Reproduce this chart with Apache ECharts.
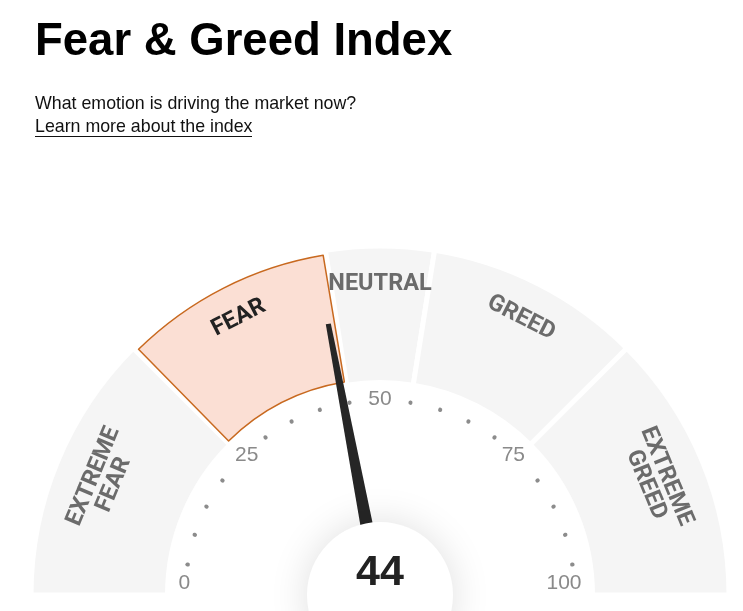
<!DOCTYPE html>
<html>
<head>
<meta charset="utf-8">
<script src="https://cdn.jsdelivr.net/npm/echarts@6/dist/echarts.min.js"></script>
<style>
html,body{margin:0;padding:0;background:#fff;}
#chart{width:743px;height:611px;}
</style>
</head>
<body>
<div id="chart"></div>
<script>
// ---- data ----
const zoneNames = ['EXTREME\nFEAR', 'FEAR', 'NEUTRAL', 'GREED', 'EXTREME\nGREED'];
const zoneSizes = [25, 20, 10, 20, 25];
const activeZone = 'FEAR';
const indexValue = 44;
const tickLabels = [0, 25, 50, 75, 100];
const minorStep = 5;
const titleText = 'Fear & Greed Index';
const subtitleText = 'What emotion is driving the market now?';
const linkText = 'Learn more about the index';

// ---- layout / style ----
const CX = 380, CY = 595;
const GRAY = '#f5f5f5';
const FEAR_FILL = '#fbdfd4';
const FEAR_LINE = '#c8691f';
const LABEL_FONT = '"Roboto","Liberation Sans Narrow","DejaVu Sans Condensed",sans-serif';
const TEXT_FONT = '"Liberation Sans","Helvetica","Arial",sans-serif';
const TICK_COLOR = '#8a8a8a';
const VMIN = tickLabels[0], VMAX = tickLabels[tickLabels.length - 1];
const angleOf = v => 180 - 180 * (v - VMIN) / (VMAX - VMIN);

const chart = echarts.init(document.getElementById('chart'), null, {renderer: 'canvas'});

const baseData = zoneNames.map((n, i) => ({
  name: n,
  value: zoneSizes[i],
  itemStyle: n === activeZone
    ? {color: 'rgba(0,0,0,0)', borderWidth: 0}
    : {color: GRAY, borderColor: '#fff', borderWidth: 5}
}));

const activeData = zoneNames.map((n, i) => ({
  name: n,
  value: zoneSizes[i],
  itemStyle: n === activeZone
    ? {color: FEAR_FILL, borderColor: FEAR_LINE, borderWidth: 1.5}
    : {color: 'rgba(0,0,0,0)', borderWidth: 0}
}));

function labelData(twoLine) {
  return zoneNames.map((n, i) => ({
    name: n,
    value: zoneSizes[i],
    itemStyle: {color: 'rgba(0,0,0,0)', borderWidth: 0},
    label: {show: (n.indexOf('\n') >= 0) === twoLine, color: n === activeZone ? '#222222' : '#6b6b6b'}
  }));
}

const pieCommon = {
  type: 'pie',
  center: [CX, CY],
  startAngle: 180,
  endAngle: 0,
  clockwise: true,
  silent: true,
  animation: false,
  avoidLabelOverlap: false,
  labelLine: {show: false}
};

const zoneLabelStyle = {
  show: true,
  position: 'inside',
  rotate: 'tangential',
  fontFamily: LABEL_FONT,
  fontWeight: 'bold',
  fontSize: 23.5,
  lineHeight: 22,
  formatter: '{b}'
};

const emptyGauge = {
  type: 'gauge',
  center: [CX, CY],
  silent: true,
  animation: false,
  axisLine: {show: false, lineStyle: {width: 0}},
  splitLine: {show: false, length: 0, distance: 0},
  axisTick: {show: false},
  axisLabel: {show: false},
  pointer: {show: false},
  anchor: {show: false},
  title: {show: false},
  detail: {show: false}
};

// dot groups between labelled values
const dotSeries = [];
for (let k = 0; k < tickLabels.length - 1; k++) {
  const a = tickLabels[k] + minorStep, b = tickLabels[k + 1] - minorStep;
  dotSeries.push(Object.assign({}, emptyGauge, {
    radius: 195,
    startAngle: angleOf(a),
    endAngle: angleOf(b),
    min: a,
    max: b,
    splitNumber: Math.round((b - a) / minorStep),
    splitLine: {show: true, length: 0.5, distance: 0, lineStyle: {color: '#8c8c8c', width: 4, cap: 'round'}},
    data: [{value: a}],
    z: 4
  }));
}

const tickStyle = {color: TICK_COLOR, fontSize: 21, fontFamily: TEXT_FONT, lineHeight: 21};

const option = {
  animation: false,
  graphic: [
    {type: 'text', x: 35, y: 42, style: {text: titleText, font: 'bold 45.5px ' + TEXT_FONT, fill: '#000', textVerticalAlign: 'middle'}},
    {type: 'text', x: 35, y: 104, style: {text: subtitleText, font: '17.8px ' + TEXT_FONT, fill: '#111', textVerticalAlign: 'middle'}},
    {type: 'text', x: 35, y: 127.5, style: {text: linkText, font: '17.8px ' + TEXT_FONT, fill: '#111', textVerticalAlign: 'middle'}},
    {type: 'line', shape: {x1: 35, y1: 136.5, x2: 252, y2: 136.5}, style: {stroke: '#111', lineWidth: 1.2}}
  ],
  series: [
    Object.assign({}, pieCommon, {
      name: 'zones',
      radius: [212.5, 349],
      label: {show: false},
      data: baseData,
      z: 1
    }),
    Object.assign({}, pieCommon, {
      name: 'active',
      radius: [216, 344.5],
      padAngle: 1.0,
      label: {show: false},
      data: activeData,
      z: 2
    }),
    Object.assign({}, pieCommon, {
      name: 'zoneLabels1',
      radius: [270, 346],
      label: zoneLabelStyle,
      data: labelData(false),
      z: 3
    }),
    Object.assign({}, pieCommon, {
      name: 'zoneLabels2',
      radius: [258, 334],
      label: zoneLabelStyle,
      data: labelData(true),
      z: 3
    }),
    ...dotSeries,
    // numeric labels
    Object.assign({}, emptyGauge, {
      radius: 206.5,
      startAngle: 180,
      endAngle: 0,
      min: VMIN,
      max: VMAX,
      splitNumber: tickLabels.length - 1,
      axisLabel: {
        show: true,
        distance: 0,
        color: TICK_COLOR,
        fontSize: 21,
        fontFamily: TEXT_FONT,
        formatter: function (v) {
          const k = tickLabels.indexOf(v);
          return '{t' + k + '|' + v + '}';
        },
        rich: {
          t0: Object.assign({}, tickStyle, {padding: [0, 0, 24, 5]}),
          t1: Object.assign({}, tickStyle, {padding: [12, 0, 0, 1]}),
          t2: Object.assign({}, tickStyle, {padding: [0, 0, 0, 0]}),
          t3: Object.assign({}, tickStyle, {padding: [12, 1, 0, 0]}),
          t4: Object.assign({}, tickStyle, {padding: [0, 5, 24, 0]})
        }
      },
      data: [{value: VMIN}],
      z: 5
    }),
    // needle + hub
    Object.assign({}, emptyGauge, {
      radius: 280,
      startAngle: 180,
      endAngle: 0,
      min: VMIN,
      max: VMAX,
      pointer: {
        show: true,
        icon: 'path://M3.3,0 L6.7,0 L10,100 L0,100 Z',
        length: 276,
        width: 15,
        offsetCenter: [0, 0],
        itemStyle: {color: '#262626'}
      },
      anchor: {
        show: true,
        showAbove: true,
        size: 146,
        icon: 'circle',
        itemStyle: {color: '#ffffff', shadowBlur: 38, shadowColor: 'rgba(0,0,0,0.13)'}
      },
      data: [{value: indexValue}],
      z: 6
    }),
    // value text
    Object.assign({}, emptyGauge, {
      radius: 280,
      startAngle: 180,
      endAngle: 0,
      min: VMIN,
      max: VMAX,
      detail: {
        show: true,
        offsetCenter: [0, -22],
        fontSize: 43,
        fontWeight: 'bold',
        fontFamily: TEXT_FONT,
        color: '#222222',
        formatter: '{value}'
      },
      data: [{value: indexValue}],
      z: 7
    })
  ]
};
chart.setOption(option);
</script>
</body>
</html>
